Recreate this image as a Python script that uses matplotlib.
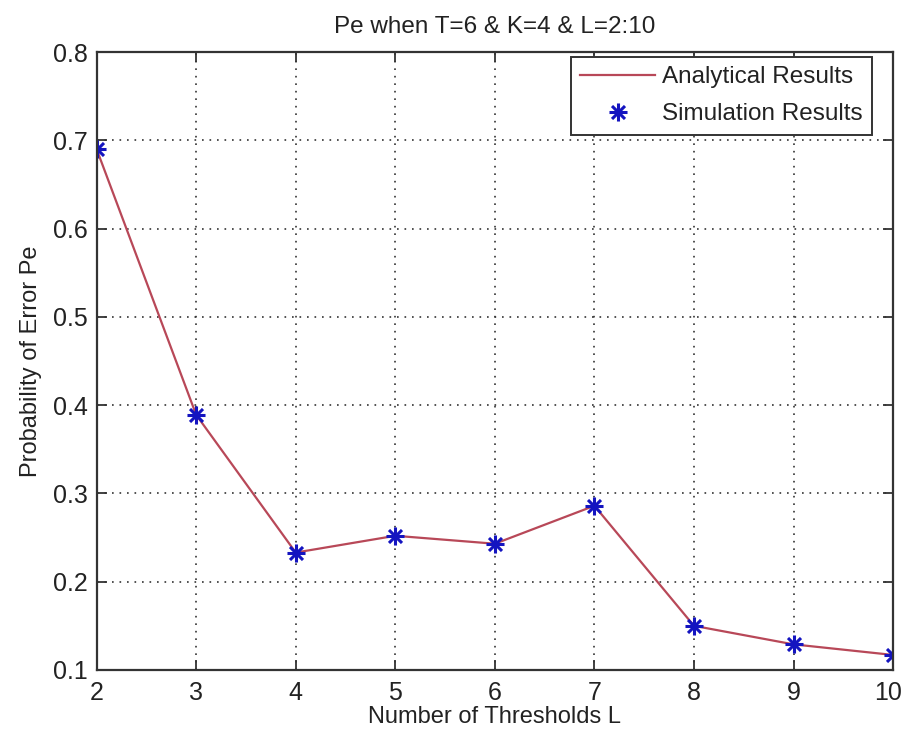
import numpy as np
import matplotlib.pyplot as plt
from matplotlib.path import Path
from matplotlib.transforms import ScaledTranslation

plt.rcParams['font.family'] = ['Liberation Sans', 'DejaVu Sans']

# number of thresholds and error probability
L = [2, 3, 4, 5, 6, 7, 8, 9, 10]
pe_analytical = [0.690, 0.389, 0.233, 0.252, 0.243, 0.286, 0.150, 0.129, 0.117]
pe_simulation = [0.690, 0.389, 0.233, 0.252, 0.243, 0.286, 0.150, 0.129, 0.117]

# asterisk marker: plus and cross spokes
d = 0.72
asterisk = Path([(-1, 0), (1, 0), (0, -1), (0, 1), (-d, -d), (d, d), (-d, d), (d, -d)],
                [Path.MOVETO, Path.LINETO] * 4)

fig = plt.figure(figsize=(9.03, 7.33), dpi=100)
ax = fig.add_axes([0.107, 0.086, 0.882, 0.843])

ax.plot(L, pe_analytical, color='#b84858', lw=1.6, label='Analytical Results')
ax.plot(L, pe_simulation, ls='none', marker=asterisk, ms=13, mew=2.2,
        color='#1414c0', label='Simulation Results')

ax.set_xlim(2, 10)
ax.set_ylim(0.1, 0.8)
ax.set_xticks(L)
ax.set_yticks(np.arange(0.1, 0.81, 0.1))
ax.set_yticklabels(['0.1', '0.2', '0.3', '0.4', '0.5', '0.6', '0.7', '0.8'])
ax.tick_params(direction='in', top=True, right=True, labelsize=18, length=7,
               width=1.3, colors='#333333', labelcolor='#222222')
ax.tick_params(axis='y', pad=6.5)
ax.tick_params(axis='x', pad=8)
ax.grid(True, ls=(0, (1, 3.5)), color='#333333', lw=1.2)
for s in ax.spines.values():
    s.set_linewidth(1.6)
    s.set_color('#333333')

# keep the last x tick label inside the figure edge
last = ax.get_xticklabels()[-1]
last.set_transform(last.get_transform() + ScaledTranslation(-5 / 100, 0, fig.dpi_scale_trans))

ax.set_title('Pe when T=6 & K=4 & L=2:10', fontsize=17.5, pad=13.5, color='#222222')
ax.set_xlabel('Number of Thresholds L', fontsize=17, labelpad=1, color='#222222')
ax.set_ylabel('Probability of Error Pe', fontsize=17, labelpad=8, color='#222222')

leg = ax.legend(loc='upper right', bbox_to_anchor=(0.974, 0.992), fontsize=17.5,
                fancybox=False, framealpha=1, edgecolor='#333333', borderaxespad=0,
                handlelength=3.1, handletextpad=0.3, borderpad=0.38, labelspacing=0.62)
leg.get_frame().set_linewidth(1.4)
for t in leg.get_texts():
    t.set_color('#222222')

fig.savefig('out.png', dpi=100)
